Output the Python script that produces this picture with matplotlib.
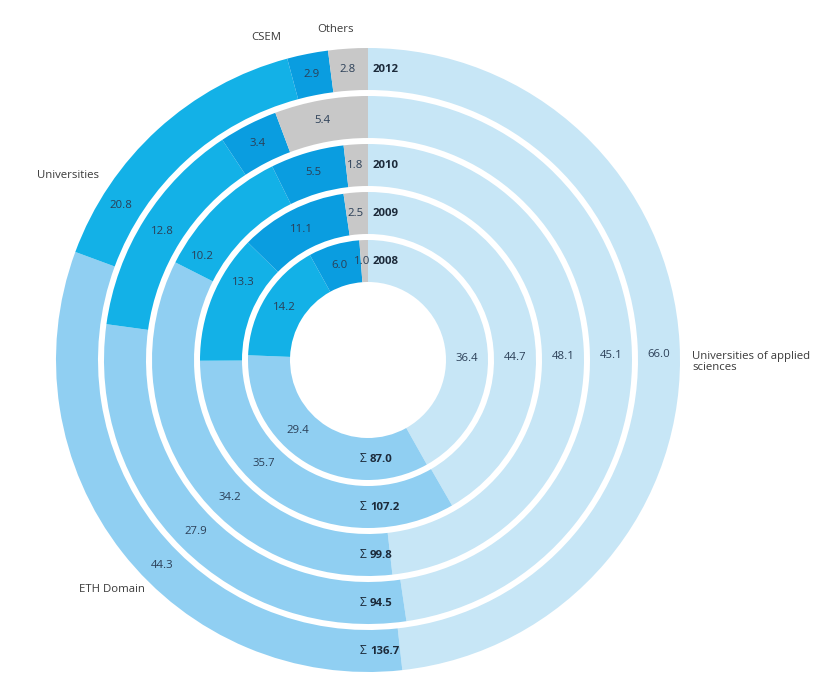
import numpy as np
import matplotlib
matplotlib.use("Agg")
import matplotlib.pyplot as plt

# funding by recipient, one ring per year (inner -> outer)
years = ["2008", "2009", "2010", "2011", "2012"]
year_shown = [True, True, True, False, True]
categories = ["Universities of applied sciences", "ETH Domain", "Universities", "CSEM", "Others"]
uas = [36.4, 44.7, 48.1, 45.1, 66.0]
eth = [29.4, 35.7, 34.2, 27.9, 44.3]
univ = [14.2, 13.3, 10.2, 12.8, 20.8]
csem = [6.0, 11.1, 5.5, 3.4, 2.9]
others = [1.0, 2.5, 1.8, 5.4, 2.8]
totals = ["87.0", "107.2", "99.8", "94.5", "136.7"]

colors = ["#c7e6f6", "#90cff2", "#13b1e7", "#0a9de0", "#c8c8c8"]
txt_col = "#2b3f57"
lab_col = "#3a3a3a"
plt.rcParams['font.family'] = ['Open Sans', 'DejaVu Sans']
fs = 8.2

W, H = 821, 678
fig = plt.figure(figsize=(W / 100, H / 100), dpi=100)
ax = fig.add_axes([0, 0, 1, 1])

cx, cy = 368, H - 360      # centre in data coords (y up)
r0 = 99                     # mid radius of the 2008 ring
step = 48                   # ring spacing
width = 42                  # ring thickness

# fixed label angles (clockwise from top), None -> middle of slice
label_ang = [89, 225, 302, None, None]


def pos(ang, r):
    a = np.radians(ang)
    return cx + r * np.sin(a), cy + r * np.cos(a)


series = [uas, eth, univ, csem, others]
for i in range(len(years)):
    vals = [s[i] for s in series]
    rmid = r0 + step * i
    ax.pie(vals, radius=rmid + width / 2, center=(cx, cy), startangle=90,
           counterclock=False, colors=colors,
           wedgeprops=dict(width=width, edgecolor='none', linewidth=0))
    tot = sum(vals)
    cum = 0
    for j, v in enumerate(vals):
        mid = (cum + v / 2) / tot * 360
        cum += v
        ang = label_ang[j] if label_ang[j] is not None else mid
        x, y = pos(ang, rmid)
        if j == 4:
            x -= 2
        ax.text(x, y, f"{v:.1f}", ha='center', va='center', fontsize=fs, color=txt_col)
    # year label at top, just right of the 12 o'clock line
    if year_shown[i]:
        ax.text(cx + 5, cy + rmid, years[i], ha='left', va='center',
                fontsize=fs, fontweight='bold', color="#1c2a3a")
    # total at bottom
    ax.text(cx - 8, cy - rmid, "\u03a3", ha='left', va='center', fontsize=fs + 0.5, color="#1c2a3a")
    ax.text(cx + 2, cy - rmid, totals[i], ha='left', va='center',
            fontsize=fs, fontweight='bold', color="#1c2a3a")

# category labels around the outside
ax.text(335, H - 30, "Others", ha='center', va='center', fontsize=fs, color=lab_col)
ax.text(266, H - 38, "CSEM", ha='center', va='center', fontsize=fs, color=lab_col)
ax.text(68, H - 176, "Universities", ha='center', va='center', fontsize=fs, color=lab_col)
ax.text(79, H - 590, "ETH Domain", ha='left', va='center', fontsize=fs, color=lab_col)
ax.text(692, H - 362, "Universities of applied\nsciences", ha='left', va='center',
        fontsize=fs, color=lab_col, linespacing=1.1)

ax.set_xlim(0, W)
ax.set_ylim(0, H)
ax.set_aspect('equal')
ax.axis('off')

fig.savefig("out.png", dpi=100)
